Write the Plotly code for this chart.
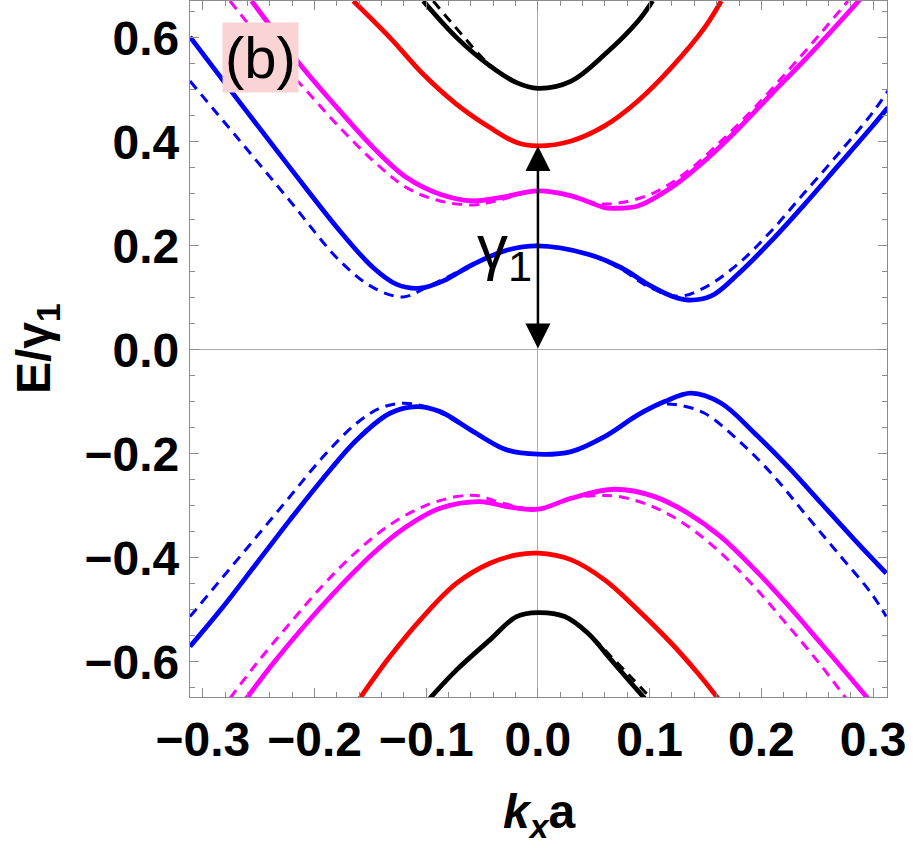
import plotly.graph_objects as go

# ---------------- data ----------------
# upper bands
blue_up_x = [-0.3115, -0.2668, -0.222, -0.1773, -0.1474, -0.1265, -0.1056, -0.0848, -0.0579, -0.028, 0.0,
             0.0448, 0.0746, 0.0985, 0.1194, 0.1343, 0.1552, 0.179, 0.2089, 0.2387, 0.2686, 0.2984, 0.3133]
blue_up_y = [0.602, 0.4756, 0.3506, 0.2288, 0.158, 0.126, 0.1186, 0.1327, 0.1648, 0.1917, 0.200,
             0.184, 0.158, 0.126, 0.1038, 0.096, 0.1038, 0.1455, 0.2096, 0.28, 0.3538, 0.4276, 0.466]
blue_up_dash_x = [-0.3115, -0.2668, -0.222, -0.1773, -0.1474, -0.1206, -0.0982, -0.0579, -0.028, 0.0,
                  0.0448, 0.0746, 0.0985, 0.1253, 0.1492, 0.179, 0.2089, 0.2387, 0.2686, 0.2984, 0.3133]
blue_up_dash_y = [0.517, 0.402, 0.2865, 0.171, 0.1198, 0.1019, 0.122, 0.1648, 0.1917, 0.200,
                  0.184, 0.155, 0.122, 0.103, 0.1198, 0.165, 0.2288, 0.3026, 0.3763, 0.453, 0.498]

mag_up_x = [-0.2563, -0.2131, -0.1773, -0.1474, -0.1176, -0.0877, -0.0579, -0.034, 0.0,
            0.0298, 0.0597, 0.0686, 0.0895, 0.1194, 0.1492, 0.179, 0.2089, 0.2387, 0.2686, 0.3000]
mag_up_y = [0.671, 0.5494, 0.4596, 0.389, 0.3314, 0.2994, 0.2865, 0.2929, 0.3058,
            0.2962, 0.2737, 0.2724, 0.2769, 0.3122, 0.3635, 0.4244, 0.4917, 0.5575, 0.627, 0.702]
mag_up_dash_x = [-0.2757, -0.237, -0.2071, -0.1773, -0.1474, -0.1176, -0.0877, -0.0579, -0.037, 0.0,
                 0.0298, 0.0537, 0.0746, 0.1044, 0.1343, 0.1641, 0.194, 0.2238, 0.2536, 0.2775]
mag_up_dash_y = [0.671, 0.5686, 0.498, 0.4275, 0.3635, 0.3121, 0.2865, 0.2788, 0.2865, 0.3058,
                 0.2962, 0.2814, 0.2833, 0.3026, 0.3442, 0.4019, 0.466, 0.5365, 0.6102, 0.671]

red_up_x = [-0.1653, -0.1325, -0.1027, -0.0728, -0.043, -0.0191, 0.0,
            0.0298, 0.0597, 0.0895, 0.1194, 0.1492, 0.1641]
red_up_y = [0.671, 0.6006, 0.5301, 0.4724, 0.4276, 0.3987, 0.3923,
            0.4019, 0.4308, 0.4788, 0.5429, 0.6198, 0.671]

black_up_x = [-0.1027, -0.0728, -0.043, -0.0191, 0.0, 0.0298, 0.0597, 0.0895, 0.1027]
black_up_y = [0.671, 0.6006, 0.5462, 0.514, 0.503, 0.517, 0.568, 0.632, 0.671]
black_up_dash_x = [-0.0937, -0.0728, -0.043, -0.0191, 0.0, 0.0298, 0.0597, 0.0895, 0.1027]
black_up_dash_y = [0.671, 0.618, 0.5480, 0.514, 0.503, 0.517, 0.568, 0.632, 0.671]

# lower bands
blue_lo_x = [-0.3115, -0.2817, -0.2518, -0.222, -0.1922, -0.1623, -0.1325, -0.1086, -0.0877, -0.0579, -0.028, 0.0,
             0.0298, 0.0597, 0.0895, 0.1134, 0.1373, 0.1641, 0.194, 0.2238, 0.2536, 0.2835, 0.3118]
blue_lo_y = [-0.5705, -0.4936, -0.4103, -0.3269, -0.2468, -0.1731, -0.1218, -0.109, -0.1186, -0.157, -0.1923, -0.2006,
             -0.1955, -0.1667, -0.125, -0.0994, -0.0833, -0.1026, -0.1603, -0.2244, -0.2949, -0.3654, -0.4295]
blue_lo_dash_x = [-0.3115, -0.2817, -0.2518, -0.222, -0.1922, -0.1623, -0.1415, -0.1206, -0.0967, -0.0579, -0.028, 0.0,
                  0.0298, 0.0597, 0.0895, 0.1074, 0.1253, 0.1492, 0.179, 0.2089, 0.2387, 0.2686, 0.2984, 0.3118]
blue_lo_dash_y = [-0.5128, -0.4359, -0.359, -0.282, -0.2051, -0.141, -0.1122, -0.1026, -0.112, -0.157, -0.1923, -0.2006,
                  -0.1955, -0.1667, -0.125, -0.1058, -0.1058, -0.1218, -0.1731, -0.2372, -0.3141, -0.391, -0.468, -0.5128]

mag_lo_x = [-0.2608, -0.237, -0.2071, -0.1773, -0.1474, -0.1176, -0.0877, -0.0519, -0.028, 0.0,
            0.0298, 0.0686, 0.1044, 0.1343, 0.1641, 0.194, 0.2238, 0.2536, 0.2835, 0.3050]
mag_lo_y = [-0.6699, -0.6026, -0.5256, -0.4551, -0.391, -0.3397, -0.3045, -0.2917, -0.3013, -0.3064,
            -0.2853, -0.268, -0.2821, -0.3141, -0.360, -0.422, -0.491, -0.565, -0.640, -0.695]
mag_lo_dash_x = [-0.2757, -0.2518, -0.222, -0.1922, -0.1623, -0.1325, -0.1027, -0.0728, -0.0549, -0.0311, 0.0,
                 0.0298, 0.0549, 0.0728, 0.1027, 0.1325, 0.1623, 0.1922, 0.222, 0.2518, 0.2757]
mag_lo_dash_y = [-0.6699, -0.6026, -0.5256, -0.4519, -0.3878, -0.3365, -0.3013, -0.2821, -0.2801, -0.2949, -0.3064,
                 -0.2853, -0.2801, -0.2821, -0.3013, -0.3365, -0.3878, -0.4519, -0.5256, -0.6026, -0.6699]

red_lo_x = [-0.1594, -0.1325, -0.1027, -0.0728, -0.043, -0.0191, 0.0,
            0.0298, 0.0597, 0.0895, 0.1194, 0.1432, 0.1611]
red_lo_y = [-0.6699, -0.5897, -0.5128, -0.4487, -0.4103, -0.3942, -0.391,
            -0.4038, -0.4423, -0.5, -0.5641, -0.6218, -0.6699]

black_lo_x = [-0.0967, -0.0728, -0.043, -0.0191, 0.0, 0.0239, 0.0448, 0.0656, 0.0836, 0.0955]
black_lo_y = [-0.6699, -0.6154, -0.5577, -0.5128, -0.5051, -0.5128, -0.5449, -0.5962, -0.641, -0.6699]
black_lo_dash_x = [-0.0967, -0.0728, -0.043, -0.0191, 0.0, 0.0239, 0.0448, 0.0656, 0.0836, 0.1010]
black_lo_dash_y = [-0.6699, -0.6154, -0.5577, -0.5128, -0.5051, -0.5128, -0.5449, -0.5900, -0.630, -0.6699]

# annotation values
gap_bottom = 0.0
gap_top = 0.3923
x_ticks = [-0.3, -0.2, -0.1, 0.0, 0.1, 0.2, 0.3]
y_ticks = [-0.6, -0.4, -0.2, 0.0, 0.2, 0.4, 0.6]

BLUE = "#0000FF"
MAG = "#FF00FF"
RED = "#FF0000"
BLK = "#000000"

fig = go.Figure()

solid = [
    (blue_up_x, blue_up_y, BLUE), (blue_lo_x, blue_lo_y, BLUE),
    (mag_up_x, mag_up_y, MAG), (mag_lo_x, mag_lo_y, MAG),
    (red_up_x, red_up_y, RED), (red_lo_x, red_lo_y, RED),
    (black_up_x, black_up_y, BLK), (black_lo_x, black_lo_y, BLK),
]
dashed = [
    (blue_up_dash_x, blue_up_dash_y, BLUE), (blue_lo_dash_x, blue_lo_dash_y, BLUE),
    (mag_up_dash_x, mag_up_dash_y, MAG), (mag_lo_dash_x, mag_lo_dash_y, MAG),
    (black_up_dash_x, black_up_dash_y, BLK), (black_lo_dash_x, black_lo_dash_y, BLK),
]
for xs, ys, c in solid:
    fig.add_trace(go.Scatter(x=xs, y=ys, mode="lines",
                             line=dict(color=c, width=4.8, shape="spline", smoothing=1.0),
                             showlegend=False, hoverinfo="skip"))
for xs, ys, c in dashed:
    fig.add_trace(go.Scatter(x=xs, y=ys, mode="lines",
                             line=dict(color=c, width=3, dash="10px,7px", shape="spline", smoothing=1.0),
                             showlegend=False, hoverinfo="skip"))

FONT = "Liberation Sans, Arial, sans-serif"
FRAME = "#8c8c8c"

axis_common = dict(
    showline=True, linecolor=FRAME, linewidth=1.2, mirror="ticks",
    ticks="inside", ticklen=9, tickwidth=1, tickcolor=FRAME,
    showgrid=False, zeroline=True, zerolinecolor="#aaaaaa", zerolinewidth=1,
    tickfont=dict(family=FONT, size=48, color="black", weight="bold"),
    tickformat=".1f",
    minor=dict(ticks="inside", ticklen=5, tickcolor=FRAME, tickwidth=1),
)

fig.update_xaxes(range=[-0.3115, 0.3125], tickvals=x_ticks, **axis_common)
fig.update_xaxes(minor_dtick=0.02, minor_tick0=0)
fig.update_yaxes(range=[-0.6675, 0.671], tickvals=y_ticks, **axis_common)
fig.update_yaxes(minor_dtick=0.05, minor_tick0=0)

# page geometry (pixels)
L, R, T, B = 190, 26, 1, 151
W, H = 913, 848
pw, ph = W - L - R, H - T - B

annotations = [
    # double-headed arrow gamma_1
    dict(x=0, y=gap_top, ax=0, ay=gap_bottom, xref="x", yref="y", axref="x", ayref="y",
         text="", showarrow=True, arrowhead=2, startarrowhead=2, arrowside="end+start",
         arrowsize=2.0, startarrowsize=2.0, arrowwidth=2.5, arrowcolor="black", standoff=0, startstandoff=0),
    dict(x=-0.0295, y=0.19, xref="x", yref="y", text="γ<sub>1</sub>", showarrow=False,
         xanchor="center", yanchor="middle",
         font=dict(family=FONT, size=62, color="black")),
    dict(x=-0.2484, y=0.562, xref="x", yref="y", text="(b)", showarrow=False,
         xanchor="center", yanchor="middle",
         bgcolor="rgb(250,212,212)", borderpad=2,
         font=dict(family=FONT, size=58, color="black")),
    # axis titles
    dict(x=(37 - L) / pw, y=0.5, xref="paper", yref="paper", text="<b>E/γ<sub>1</sub></b>", showarrow=False,
         xanchor="center", yanchor="middle",
         textangle=-90, font=dict(family=FONT, size=48, color="black")),
    dict(x=0.5, y=-(815 - (H - B)) / ph, xref="paper", yref="paper",
         text="<b><i>k</i><sub><i>x</i></sub>a</b>", showarrow=False,
         xanchor="center", yanchor="middle",
         font=dict(family=FONT, size=48, color="black")),
]

fig.update_layout(
    width=W, height=H,
    margin=dict(l=L, r=R, t=T, b=B),
    paper_bgcolor="white", plot_bgcolor="white",
    annotations=annotations,
)

fig.write_html("out.html")
